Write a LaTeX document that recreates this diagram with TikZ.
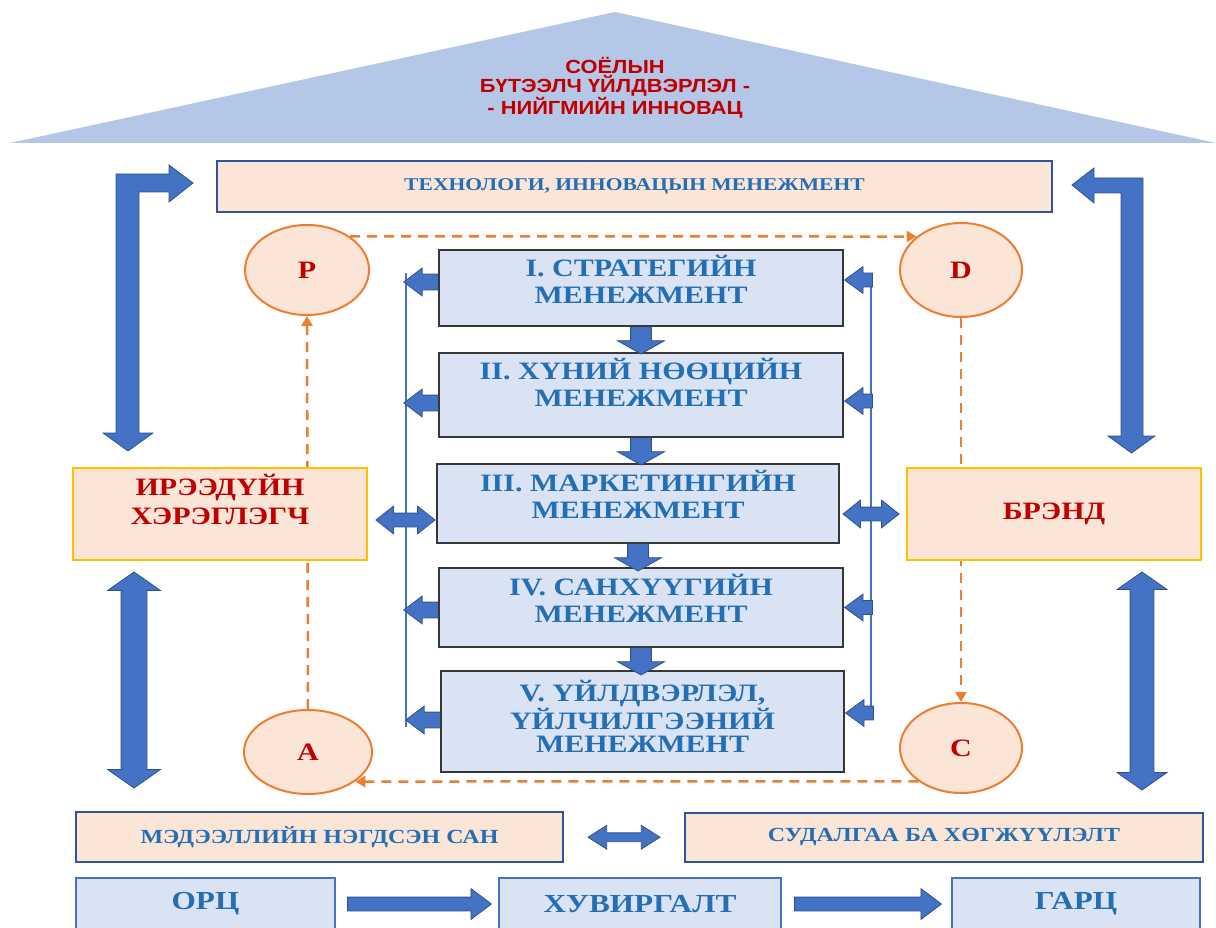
\documentclass[tikz,border=0pt]{standalone}
\usepackage{fontspec}
\setmainfont{Liberation Serif}
\newfontfamily\wideserif[FakeStretch=1.2]{Liberation Serif}
\newfontfamily\roofsans[FakeStretch=1.15]{Liberation Sans}
\usetikzlibrary{shapes.geometric,shapes.arrows,arrows.meta,calc,backgrounds}

\definecolor{roofblue}{RGB}{180,199,231}
\definecolor{peach}{RGB}{251,229,214}
\definecolor{paleblue}{RGB}{218,227,243}
\definecolor{arrowblue}{RGB}{68,114,196}
\definecolor{arrowedge}{RGB}{47,82,143}
\definecolor{boxblue}{RGB}{47,85,151}
\definecolor{textblue}{RGB}{36,110,180}
\definecolor{darkred}{RGB}{192,0,0}
\definecolor{goldline}{RGB}{255,192,0}
\definecolor{pdcaorange}{RGB}{237,125,49}
\definecolor{boxedge}{RGB}{55,55,55}

\tikzset{
  blockfill/.style={fill=arrowblue, draw=arrowedge, line width=0.8pt},
  % #1 head width, #2 half shaft, #3 head extend, #4 tip angle
  fatarrow/.style n args={4}{single arrow, blockfill, inner sep=#2,
    minimum width=#1, single arrow head extend=#3, single arrow tip angle=#4},
  fatdouble/.style n args={4}{double arrow, blockfill, inner sep=#2,
    minimum width=#1, double arrow head extend=#3, double arrow tip angle=#4},
  peachbox/.style={draw=boxblue, line width=2pt, fill=peach, inner sep=0pt, text=textblue,
    font=\fontsize{20}{24}\selectfont\wideserif\bfseries},
  goldbox/.style={draw=goldline, line width=2.5pt, fill=peach, inner sep=0pt, align=center,
    minimum width=294pt, minimum height=92pt, text=darkred,
    font=\fontsize{25}{29}\selectfont\wideserif\bfseries},
  mgmtbox/.style={draw=boxedge, line width=1.8pt, fill=paleblue, inner sep=0pt, align=center,
    minimum width=404pt, text depth=18pt, text=textblue,
    font=\fontsize{25}{27}\selectfont\wideserif\bfseries},
  flowbox/.style={draw=arrowblue, line width=2pt, fill=paleblue, inner sep=0pt,
    minimum height=52pt, text=textblue, font=\fontsize{26}{30}\selectfont\wideserif\bfseries},
  cycnode/.style={ellipse, draw=pdcaorange, line width=2pt, fill=peach, inner sep=0pt,
    text=darkred, font=\fontsize{25}{28}\selectfont\wideserif\bfseries},
  pdca/.style={draw=pdcaorange, line width=2.5pt, dash pattern=on 10pt off 7pt,
    -{Triangle[length=10pt,width=11pt]}},
  spine/.style={draw=arrowblue, line width=1.3pt}
}

\begin{document}
\begin{tikzpicture}[x=1pt,y=-1pt]
    \clip (0,0) rectangle (1216,928);
    % roof
    \fill[roofblue] (10,143) -- (615,12) -- (1216,143) -- cycle;
    \node[align=center, text=darkred, font=\fontsize{19}{18.5}\selectfont\roofsans\bfseries] (roof) at (615,88)
        {СОЁЛЫН\\БҮТЭЭЛЧ ҮЙЛДВЭРЛЭЛ -\\- НИЙГМИЙН ИННОВАЦ};
    \node[peachbox, minimum width=835pt, minimum height=51pt, font=\fontsize{18}{22}\selectfont\wideserif\bfseries]
        (techmgmt) at (634.5,186.5) {ТЕХНОЛОГИ, ИННОВАЦЫН МЕНЕЖМЕНТ};

    % management blocks
    \node[mgmtbox, minimum height=76pt] (m1) at (641,288) {I. СТРАТЕГИЙН\\МЕНЕЖМЕНТ};
    \node[mgmtbox, minimum height=84pt, text depth=26pt] (m2) at (641,395) {II. ХҮНИЙ НӨӨЦИЙН\\МЕНЕЖМЕНТ};
    \node[mgmtbox, minimum height=79pt, minimum width=402pt] (m3) at (638,503.5) {III. МАРКЕТИНГИЙН\\МЕНЕЖМЕНТ};
    \node[mgmtbox, minimum height=79pt] (m4) at (641,607.5) {IV. САНХҮҮГИЙН\\МЕНЕЖМЕНТ};
    \node[mgmtbox, minimum height=101pt, minimum width=403pt, text depth=10pt,
        font=\fontsize{25}{23.5}\selectfont\wideserif\bfseries] (m5) at (642.5,721.5) {V. ҮЙЛДВЭРЛЭЛ,\\ҮЙЛЧИЛГЭЭНИЙ\\МЕНЕЖМЕНТ};

    % side boxes
    \node[goldbox, text depth=30pt] (future) at (220,514) {ИРЭЭДҮЙН\\ХЭРЭГЛЭГЧ};
    \node[goldbox] (brand) at (1054,514) {БРЭНД};

    % PDCA circles
    \node[cycnode, minimum width=124pt, minimum height=90pt] (cP) at (307,270) {P};
    \node[cycnode, minimum width=122pt, minimum height=94pt] (cD) at (961,270) {D};
    \node[cycnode, minimum width=128pt, minimum height=84pt] (cA) at (308,752) {A};
    \node[cycnode, minimum width=122pt, minimum height=90pt] (cC) at (961,748) {C};
    \begin{pgfonlayer}{background}
        \draw[pdca] (cP.38) -- (cD.143);
        \draw[pdca] (cD.south) -- (cC.north);
        \draw[pdca] (cC.218) -- (cA.-32);
        \draw[pdca] (cA.north) -- (cP.south);
    \end{pgfonlayer}

    % bottom rows
    \node[peachbox, minimum width=487pt, minimum height=50pt] (infobase) at (319.5,837) {МЭДЭЭЛЛИЙН НЭГДСЭН САН};
    \node[peachbox, minimum width=518pt, minimum height=49pt] (research) at (944,837.5) {СУДАЛГАА БА ХӨГЖҮҮЛЭЛТ};
    \node[flowbox, minimum width=259pt] (input) at (205.5,904) {ОРЦ};
    \node[flowbox, minimum width=282pt] (transform) at (640,904) {ХУВИРГАЛТ};
    \node[flowbox, minimum width=248pt] (output) at (1076,904) {ГАРЦ};

    % big bent arrows
    \filldraw[blockfill] (116,433) -- (103,433) -- (128,451) -- (153,433) -- (139,433) -- (139,192)
        -- (169,192) -- (169,202) -- (193,183) -- (169,165) -- (169,174) -- (116,174) -- cycle;
    \filldraw[blockfill] (1143,436) -- (1155,436) -- (1131.5,453) -- (1108,436) -- (1121,436) -- (1121,193)
        -- (1094,193) -- (1094,203) -- (1072,185) -- (1094,168) -- (1094,178) -- (1143,178) -- cycle;
    \node[fatdouble={52pt}{12.5pt}{13.5pt}{110}, minimum height=216pt, shape border rotate=90] (updownl) at (134,680) {};
    \node[fatdouble={49pt}{11.5pt}{13pt}{110}, minimum height=218pt, shape border rotate=90] (updownr) at (1142,681) {};

    % arrows down the stack
    \foreach \a in {m1, m2, m3, m4}
        \node[fatarrow={46pt}{10pt}{13pt}{121}, minimum height=25pt, shape border rotate=270, anchor=tail]
            at (\a.south) {};

    % thin side rails
    \draw[spine] (406,273) -- (406,727);
    \draw[spine] (871,273) -- (871,720);
    \foreach \m/\dy in {m1/6, m2/-8, m4/-2.5, m5/1.5}
        \node[fatarrow={27pt}{7.5pt}{6pt}{74}, minimum height=34pt, shape border rotate=180, anchor=tail]
            at ([yshift=\dy pt]\m.west) {};
    \foreach \m/\dy in {m1/8, m2/-6, m4/0, m5/8.5}
        \node[fatarrow={26pt}{6.5pt}{6.5pt}{72}, minimum height=28pt, shape border rotate=180, anchor=tip]
            at ([yshift=\dy pt]\m.east) {};
    \node[fatdouble={27pt}{6.5pt}{7pt}{77}, minimum height=59pt] (linkl) at (405.5,520) {};
    \node[fatdouble={27pt}{6.5pt}{7pt}{77}, minimum height=56pt] (linkr) at (871,514) {};

    % bottom arrows
    \node[fatdouble={23pt}{4pt}{7.5pt}{65}, minimum height=72pt] at ($(infobase.east)!0.5!(research.west)$) {};
    \node[fatarrow={30pt}{6.5pt}{8.5pt}{74}, minimum height=144pt, anchor=tail] at ([xshift=11pt]input.east) {};
    \node[fatarrow={30pt}{6.5pt}{8.5pt}{74}, minimum height=147pt, anchor=tail] at ([xshift=12pt]transform.east) {};
\end{tikzpicture}
\end{document}
